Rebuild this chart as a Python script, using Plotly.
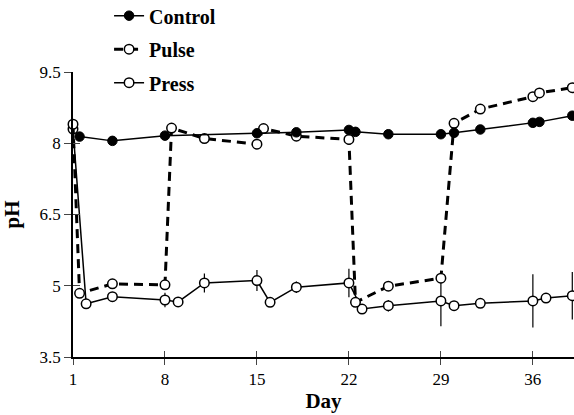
import plotly.graph_objects as go

# ---- data ----
control_day = [1.5, 4, 8, 15, 18, 22, 22.5, 25, 29, 30, 32, 36, 36.5, 39]
control_ph = [8.14, 8.05, 8.16, 8.21, 8.23, 8.28, 8.24, 8.19, 8.19, 8.22, 8.29, 8.43, 8.45, 8.58]

pulse_day = [1, 1.5, 4, 8, 8.5, 11, 15, 15.5, 18, 22, 22.5, 25, 29, 30, 32, 36, 36.5, 39]
pulse_ph = [8.40, 4.84, 5.04, 5.02, 8.32, 8.10, 7.98, 8.31, 8.15, 8.08, 4.65, 4.99, 5.16, 8.42, 8.72, 8.98, 9.06, 9.17]
pulse_err = [0, 0.08, 0, 0, 0, 0, 0, 0, 0, 0, 0, 0.1, 0, 0, 0, 0, 0, 0]

press_day = [1, 2, 4, 8, 9, 11, 15, 16, 18, 22, 23, 25, 29, 30, 32, 36, 37, 39]
press_ph = [8.30, 4.62, 4.77, 4.70, 4.66, 5.06, 5.11, 4.65, 4.97, 5.06, 4.51, 4.58, 4.68, 4.58, 4.63, 4.68, 4.74, 4.79]
press_err = [0, 0, 0, 0.15, 0.08, 0.2, 0.22, 0, 0.12, 0.3, 0, 0.12, 0.53, 0, 0.08, 0.56, 0, 0.5]

x_ticks = [1, 8, 15, 22, 29, 36]
y_ticks = [3.5, 5, 6.5, 8, 9.5]

FONT = "Liberation Serif"
X_RANGE = [1, 39.13]
Y_RANGE = [3.5, 9.5]

fig = go.Figure()

fig.add_trace(go.Scatter(
    x=press_day, y=press_ph, name="<b>Press</b>", mode="lines+markers",
    line=dict(color="black", width=1.5),
    marker=dict(symbol="circle", size=9.5, color="white", line=dict(color="black", width=1.5)),
    error_y=dict(type="data", array=press_err, visible=True, color="black", thickness=1.2, width=0),
    legendgroup="c", legendrank=3, cliponaxis=False,
))
fig.add_trace(go.Scatter(
    x=pulse_day, y=pulse_ph, name="<b>Pulse</b>", mode="lines+markers",
    line=dict(color="black", width=3, dash="9px,6px"),
    marker=dict(symbol="circle", size=9.5, color="white", line=dict(color="black", width=1.5)),
    error_y=dict(type="data", array=pulse_err, visible=True, color="black", thickness=1.2, width=0),
    legendgroup="b", legendrank=2, cliponaxis=False,
))
fig.add_trace(go.Scatter(
    x=control_day, y=control_ph, name="<b>Control</b>", mode="lines+markers",
    line=dict(color="black", width=1.5),
    marker=dict(symbol="circle", size=9.5, color="black", line=dict(color="black", width=1)),
    legendgroup="a", legendrank=1, cliponaxis=False,
))
# invisible trace to anchor overlay axes (for ticks crossing the axis lines)
fig.add_trace(go.Scatter(x=[None], y=[None], xaxis="x2", yaxis="y2", showlegend=False, hoverinfo="skip"))

fig.update_layout(
    width=574, height=415,
    margin=dict(l=73, r=0, t=72, b=58, autoexpand=False),
    paper_bgcolor="white", plot_bgcolor="white",
    font=dict(family=FONT, size=17, color="black"),
    showlegend=True,
    legend=dict(x=0.072, y=1.266, xanchor="left", yanchor="top",
                bgcolor="rgba(0,0,0,0)", font=dict(family=FONT, size=20),
                tracegroupgap=4.5, traceorder="grouped"),
    xaxis=dict(range=X_RANGE, tickvals=x_ticks, ticks="outside", ticklen=6, tickwidth=1.2,
               showline=True, linecolor="black", linewidth=1.5, showgrid=False, zeroline=False,
               title=dict(text="<b>Day</b>", font=dict(family=FONT, size=21), standoff=2),
               tickfont=dict(family=FONT, size=17)),
    yaxis=dict(range=Y_RANGE, tickvals=y_ticks, ticktext=["3.5", "5", "6.5", "8", "9.5"],
               ticks="outside", ticklen=7, tickwidth=1.2,
               showline=True, linecolor="black", linewidth=1.5, showgrid=False, zeroline=False,
               title=dict(text="<b>pH</b>", font=dict(family=FONT, size=21), standoff=14),
               tickfont=dict(family=FONT, size=17)),
    xaxis2=dict(range=X_RANGE, tickvals=x_ticks, ticks="inside", ticklen=6, tickwidth=1.2,
                overlaying="x", showticklabels=False, showgrid=False, zeroline=False,
                showline=False, side="bottom", anchor="y2"),
    yaxis2=dict(range=Y_RANGE, tickvals=y_ticks, ticks="inside", ticklen=7, tickwidth=1.2,
                overlaying="y", showticklabels=False, showgrid=False, zeroline=False,
                showline=False, side="left", anchor="x2"),
)

fig.write_html("out.html")
